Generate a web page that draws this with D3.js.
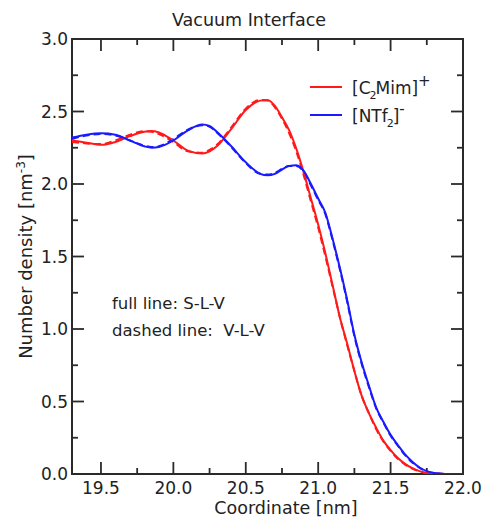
<!DOCTYPE html>
<html><head><meta charset="utf-8">
<script src="https://cdn.jsdelivr.net/npm/d3@7/dist/d3.min.js"></script>
<style>
body{margin:0;background:#fff;}
text{font-family:"DejaVu Sans",sans-serif;fill:#222;}
</style></head><body>
<svg id="c" width="486" height="519"></svg>
<script>
// ---- data ----
const xMajor = [19.5, 20.0, 20.5, 21.0, 21.5, 22.0];
const xMinor = [19.75, 20.25, 20.75, 21.25, 21.75];
const yMajor = [0.0, 0.5, 1.0, 1.5, 2.0, 2.5, 3.0];
const yMinor = [0.25, 0.75, 1.25, 1.75, 2.25, 2.75];

const coord = [19.30,19.40,19.50,19.60,19.70,19.80,19.85,19.90,20.00,20.10,20.20,20.25,20.30,20.40,20.50,20.60,20.65,20.70,20.75,20.80,20.85,20.90,20.95,21.00,21.05,21.10,21.15,21.20,21.25,21.30,21.35,21.40,21.45,21.50,21.55,21.60,21.65,21.70,21.75,21.80,21.85,21.90,22.00];

const cationSLV = [2.30,2.285,2.27,2.29,2.33,2.36,2.365,2.355,2.30,2.23,2.21,2.225,2.26,2.38,2.51,2.575,2.58,2.54,2.46,2.37,2.24,2.08,1.90,1.72,1.52,1.30,1.08,0.90,0.71,0.54,0.42,0.32,0.23,0.165,0.11,0.07,0.04,0.02,0.007,0.002,0.001,0.0,0.0];
const cationVLV = [2.29,2.28,2.275,2.30,2.34,2.365,2.36,2.345,2.29,2.225,2.215,2.235,2.27,2.39,2.52,2.58,2.575,2.53,2.45,2.35,2.22,2.06,1.88,1.70,1.50,1.29,1.08,0.89,0.71,0.54,0.42,0.31,0.225,0.16,0.105,0.065,0.038,0.018,0.006,0.002,0.001,0.0,0.0];
const anionSLV = [2.32,2.34,2.35,2.34,2.30,2.26,2.25,2.255,2.30,2.37,2.41,2.40,2.36,2.26,2.15,2.07,2.06,2.07,2.10,2.125,2.13,2.09,2.00,1.90,1.80,1.62,1.42,1.20,0.96,0.77,0.61,0.46,0.36,0.27,0.20,0.135,0.085,0.045,0.02,0.007,0.002,0.0,0.0];
const anionVLV = [2.31,2.335,2.345,2.335,2.30,2.265,2.255,2.26,2.31,2.375,2.405,2.395,2.355,2.255,2.145,2.07,2.065,2.075,2.105,2.125,2.125,2.085,1.99,1.89,1.79,1.61,1.41,1.19,0.95,0.76,0.60,0.455,0.355,0.265,0.195,0.13,0.08,0.042,0.018,0.006,0.002,0.0,0.0];

// ---- layout ----
const svg = d3.select("#c");
const L = 72, R = 463, T = 39, B = 474;
const x = d3.scaleLinear().domain([19.3, 22.0]).range([L, R]);
const y = d3.scaleLinear().domain([0, 3.0]).range([B, T]);
const axisColor = "#2a2a2a";
const MAJ = 12, MIN = 6;

function tk(x1, y1, x2, y2) {
  svg.append("line").attr("x1", x1).attr("y1", y1).attr("x2", x2).attr("y2", y2)
    .attr("stroke", axisColor).attr("stroke-width", 1.8);
}
xMajor.forEach(v => { tk(x(v), B, x(v), B - MAJ); tk(x(v), T, x(v), T + MAJ); });
xMinor.forEach(v => { tk(x(v), B, x(v), B - MIN); tk(x(v), T, x(v), T + MIN); });
yMajor.forEach(v => { tk(L, y(v), L + MAJ, y(v)); tk(R, y(v), R - MAJ, y(v)); });
yMinor.forEach(v => { tk(L, y(v), L + MIN, y(v)); tk(R, y(v), R - MIN, y(v)); });

// tick labels
const fmt = d3.format(".1f");
svg.append("g").selectAll("text").data(xMajor).join("text")
  .attr("x", d => x(d)).attr("y", 494).attr("text-anchor", "middle")
  .style("font-size", "17px").text(fmt);
svg.append("g").selectAll("text").data(yMajor).join("text")
  .attr("x", 68).attr("y", d => y(d)).attr("dy", "0.36em").attr("text-anchor", "end")
  .style("font-size", "17px").text(fmt);
// frame
svg.append("rect").attr("x", L).attr("y", T).attr("width", R - L).attr("height", B - T)
  .attr("fill", "none").attr("stroke", axisColor).attr("stroke-width", 2);

// ---- lines ----
const line = d3.line().x(d => x(d[0])).y(d => y(d[1])).curve(d3.curveMonotoneX);
svg.append("clipPath").attr("id", "pc").append("rect")
  .attr("x", L).attr("y", T).attr("width", R - L).attr("height", B - T);
const pl = svg.append("g").attr("clip-path", "url(#pc)");
const series = [
  {v: cationVLV, c: "#ff1a1a", dash: "7,4"},
  {v: anionVLV, c: "#1a1aff", dash: "7,4"},
  {v: cationSLV, c: "#ff1a1a", dash: null},
  {v: anionSLV, c: "#1a1aff", dash: null}
];
series.forEach(s => {
  pl.append("path").datum(coord.map((c, i) => [c, s.v[i]]))
    .attr("d", line).attr("fill", "none").attr("stroke", s.c).attr("stroke-width", 2)
    .attr("stroke-dasharray", s.dash);
});

// ---- texts ----
svg.append("text").attr("x", 249).attr("y", 26).attr("text-anchor", "middle")
  .style("font-size", "17.5px").text("Vacuum Interface");
svg.append("text").attr("x", 286).attr("y", 514).attr("text-anchor", "middle")
  .style("font-size", "17.5px").text("Coordinate [nm]");
const yl = svg.append("text").attr("transform", `translate(32,${(T + B) / 2}) rotate(-90)`)
  .attr("text-anchor", "middle").style("font-size", "18px");
yl.append("tspan").text("Number density [nm");
yl.append("tspan").attr("dy", -7).style("font-size", "12px").text("-3");
yl.append("tspan").attr("dy", 7).text("]");

// legend
const lg = [{c: "#ff1a1a", y: 87, base: "[C", sub: "2", rest: "Mim]", sup: "+"},
            {c: "#1a1aff", y: 115, base: "[NTf", sub: "2", rest: "]", sup: "-"}];
lg.forEach(d => {
  svg.append("line").attr("x1", 310).attr("x2", 342).attr("y1", d.y).attr("y2", d.y)
    .attr("stroke", d.c).attr("stroke-width", 2);
  const t = svg.append("text").attr("x", 352).attr("y", d.y + 7).style("font-size", "17px");
  t.append("tspan").text(d.base);
  t.append("tspan").attr("dy", 5).attr("dx", -1).style("font-size", "11px").text(d.sub);
  t.append("tspan").attr("dy", -5).attr("dx", -1).text(d.rest);
  t.append("tspan").attr("dy", -8).style("font-size", "15px").text(d.sup);
});

svg.append("text").attr("x", 112).attr("y", 309).style("font-size", "16.5px").text("full line: S-L-V");
svg.append("text").attr("x", 112).attr("y", 336).style("font-size", "16.5px").style("white-space", "pre").text("dashed line:  V-L-V");
</script>
</body></html>
